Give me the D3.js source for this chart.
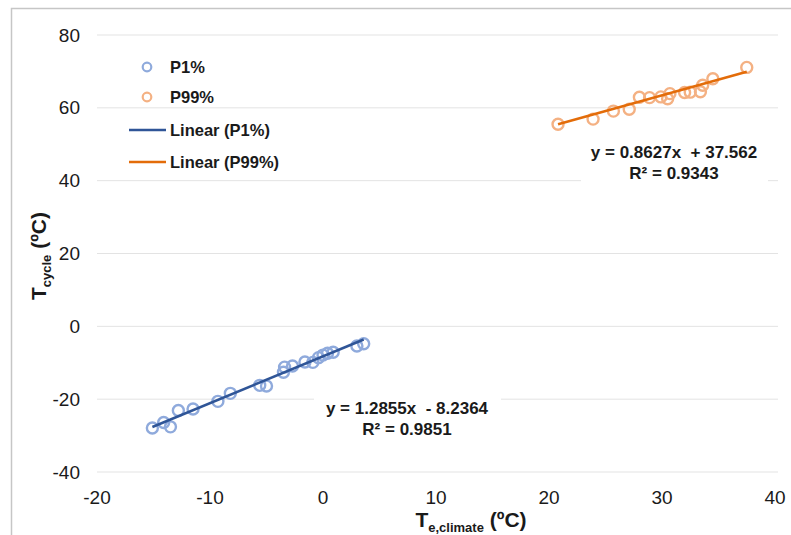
<!DOCTYPE html>
<html>
<head>
<meta charset="utf-8">
<style>
  body { margin: 0; background: #fff; }
  svg text { font-family: "Liberation Sans", Arial, sans-serif; fill: #1a1a1a; }
</style>
</head>
<body>
<svg id="chart" width="791" height="535"></svg>

<script src="https://d3js.org/d3.v7.min.js"></script>
<script>
    // values
    let p1X = [-15.1, -14.1, -13.5, -12.8, -11.5, -9.3, -8.2, -5.6, -5.0, -3.5, -3.4, -2.7, -1.6, -0.9, -0.4, 0.0, 0.4, 0.9, 3.0, 3.6]
    let p1Y = [-27.9, -26.4, -27.6, -23.1, -22.7, -20.6, -18.4, -16.2, -16.4, -12.6, -11.2, -10.9, -9.8, -9.9, -8.6, -7.9, -7.4, -7.1, -5.4, -4.8]
    let p99X = [20.8, 23.9, 25.7, 27.1, 28.0, 28.9, 29.9, 30.5, 30.7, 32.0, 32.5, 33.4, 33.6, 34.5, 37.5]
    let p99Y = [55.5, 56.9, 59.1, 59.6, 62.9, 62.8, 63.0, 62.5, 63.9, 64.2, 64.3, 64.4, 66.2, 68.0, 71.1]

    let slopes = [1.2855, 0.8627]
    let intercepts = [-8.2364, 37.562]
    let equations = ['y = 1.2855x  - 8.2364', 'y = 0.8627x  + 37.562']
    let rSquared = ['R² = 0.9851', 'R² = 0.9343']

    let xTicks = [-20, -10, 0, 10, 20, 30, 40]
    let yTicks = [-40, -20, 0, 20, 40, 60, 80]
    let legendNames = ['P1%', 'P99%', 'Linear (P1%)', 'Linear (P99%)']

    let markerColors = ['#8faadc', '#f4b183']
    let lineColors = ['#2f5597', '#e36c09']

    let svg = d3.select('#chart')

    let x = d3.scaleLinear().domain([-20, 40]).range([97, 775])
    let y = d3.scaleLinear().domain([-40, 80]).range([472, 35])

    // outer chart border (cut off at right/bottom like the picture)
    svg.append('rect')
        .attr('x', 11.5).attr('y', 8.5)
        .attr('width', 900).attr('height', 700)
        .attr('fill', 'none')
        .attr('stroke', '#c6c6c6')
        .attr('stroke-width', 1.5)

    // horizontal gridlines
    svg.append('g')
        .selectAll('line')
        .data(yTicks)
        .join('line')
        .attr('x1', x(-20)).attr('x2', x(40) + 3)
        .attr('y1', d => y(d)).attr('y2', d => y(d))
        .attr('stroke', '#e3e3e3')
        .attr('stroke-width', 1)

    // y tick labels
    svg.append('g')
        .selectAll('text')
        .data(yTicks)
        .join('text')
        .attr('x', 80)
        .attr('y', d => y(d))
        .attr('dy', '0.35em')
        .attr('text-anchor', 'end')
        .style('font-size', '19px')
        .text(d => d)

    // x tick labels
    svg.append('g')
        .selectAll('text')
        .data(xTicks)
        .join('text')
        .attr('x', d => x(d))
        .attr('y', 497)
        .attr('dy', '0.35em')
        .attr('text-anchor', 'middle')
        .style('font-size', '19px')
        .text(d => d)

    // equation labels with white boxes
    let eqPos = [[407, 408], [674, 152]]
    for (let i = 0; i < 2; i++) {
        svg.append('rect')
            .attr('x', eqPos[i][0] - 93).attr('y', eqPos[i][1] - 15)
            .attr('width', 187).attr('height', 48)
            .attr('fill', '#fff')
        svg.append('text')
            .attr('x', eqPos[i][0]).attr('y', eqPos[i][1])
            .attr('dy', '0.35em')
            .attr('text-anchor', 'middle')
            .style('font-size', '17px').style('font-weight', 'bold')
            .style('white-space', 'pre')
            .text(equations[i])
        svg.append('text')
            .attr('x', eqPos[i][0]).attr('y', eqPos[i][1] + 21)
            .attr('dy', '0.35em')
            .attr('text-anchor', 'middle')
            .style('font-size', '17px').style('font-weight', 'bold')
            .text(rSquared[i])
    }

    // markers
    let series = [
        {xs: p1X, ys: p1Y},
        {xs: p99X, ys: p99Y}
    ]
    series.forEach(function (s, i) {
        svg.append('g')
            .selectAll('circle')
            .data(s.xs.map((v, j) => [v, s.ys[j]]))
            .join('circle')
            .attr('cx', d => x(d[0]))
            .attr('cy', d => y(d[1]))
            .attr('r', 5.5)
            .attr('fill', 'none')
            .attr('stroke', markerColors[i])
            .attr('stroke-width', 2.4)
    })

    // linear trendlines over the data range
    series.forEach(function (s, i) {
        let x0 = d3.min(s.xs), x1 = d3.max(s.xs)
        svg.append('line')
            .attr('x1', x(x0)).attr('y1', y(slopes[i] * x0 + intercepts[i]))
            .attr('x2', x(x1)).attr('y2', y(slopes[i] * x1 + intercepts[i]))
            .attr('stroke', lineColors[i])
            .attr('stroke-width', 2.5)
    })

    // legend
    let legY = [67, 97, 130, 162]
    legendNames.forEach(function (name, i) {
        if (i < 2) {
            svg.append('circle')
                .attr('cx', 147).attr('cy', legY[i])
                .attr('r', 4.3)
                .attr('fill', 'none')
                .attr('stroke', markerColors[i])
                .attr('stroke-width', 2.2)
        } else {
            svg.append('line')
                .attr('x1', 129).attr('x2', 166)
                .attr('y1', legY[i]).attr('y2', legY[i])
                .attr('stroke', lineColors[i - 2])
                .attr('stroke-width', 2.5)
        }
        svg.append('text')
            .attr('x', 170).attr('y', legY[i])
            .attr('dy', '0.35em')
            .style('font-size', '16.5px').style('font-weight', 'bold')
            .text(name)
    })

    // x axis title
    let xt = svg.append('text')
        .attr('x', 471).attr('y', 527)
        .attr('text-anchor', 'middle')
        .style('font-weight', 'bold')
    xt.append('tspan').style('font-size', '21px').text('T')
    xt.append('tspan').style('font-size', '13px').attr('dy', 5).text('e,climate')
    xt.append('tspan').style('font-size', '21px').attr('dy', -5).text(' (ºC)')

    // y axis title
    let yt = svg.append('text')
        .attr('transform', 'translate(46,256) rotate(-90)')
        .attr('text-anchor', 'middle')
        .style('font-weight', 'bold')
    yt.append('tspan').style('font-size', '21px').text('T')
    yt.append('tspan').style('font-size', '13px').attr('dy', 5).text('cycle')
    yt.append('tspan').style('font-size', '21px').attr('dy', -5).text(' (ºC)')
</script>
</body>
</html>
